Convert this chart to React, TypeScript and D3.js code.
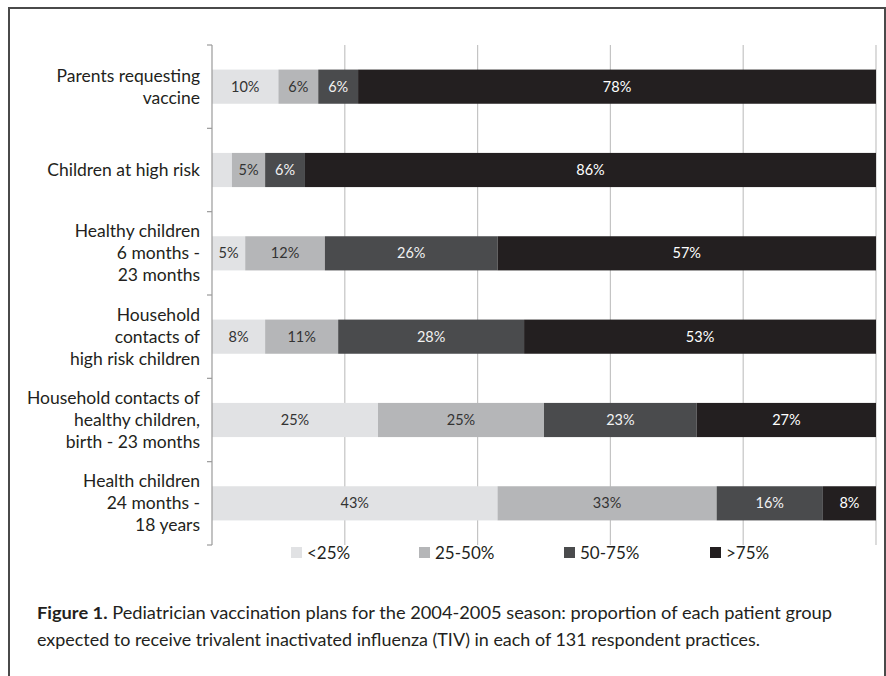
import React from "react";
import * as d3 from "d3";

const categories = [
  "Parents requesting|vaccine",
  "Children at high risk",
  "Healthy children|6 months -|23 months",
  "Household|contacts of|high risk children",
  "Household contacts of|healthy children,|birth - 23 months",
  "Health children|24 months -|18 years",
];
const seriesNames = ["<25%", "25-50%", "50-75%", ">75%"];
const lt25 = [10, 3, 5, 8, 25, 43];
const s25to50 = [6, 5, 12, 11, 25, 33];
const s50to75 = [6, 6, 26, 28, 23, 16];
const gt75 = [78, 86, 57, 53, 27, 8];
const xTicks = [20, 40, 60, 80, 100];
const captionBold = "Figure 1.";
const captionLine1 = " Pediatrician vaccination plans for the 2004-2005 season: proportion of each patient group";
const captionLine2 = "expected to receive trivalent inactivated influenza (TIV) in each of 131 respondent practices.";

const colors = ["#e1e2e4", "#b5b6b8", "#4a4b4d", "#231f20"];
const textColors = ["#333", "#333", "#f2f2f2", "#ffffff"];
const FONT = "Lato, 'Open Sans', sans-serif";

export default function App() {
  const W = 886;
  const H = 676;
  const x = d3.scaleLinear().domain([0, 100]).range([212, 876]);
  const y = d3
    .scaleBand<string>()
    .domain(categories)
    .range([45, 545])
    .paddingInner(0.59)
    .paddingOuter(0.295);
  const rows = categories.map((c, i) => ({
    cat: c,
    a: lt25[i],
    b: s25to50[i],
    c2: s50to75[i],
    d: gt75[i],
  }));
  const stack = d3.stack<any>().keys(["a", "b", "c2", "d"]);
  const layers = stack(rows);
  const step = y.step();
  const boundaries = d3.range(categories.length + 1).map((i) => 45 + i * step);

  const legendX = [291, 419, 564, 710];

  return (
    <svg
      width={W}
      height={H}
      style={{ position: "absolute", left: 0, top: 0, background: "#fff" }}
      fontFamily={FONT}
    >
      <rect x={0} y={0} width={W} height={H} fill="#fff" />
      {/* frame */}
      <path d={`M9,${H} V8 H885 V${H}`} fill="none" stroke="#4a4a4a" strokeWidth={2} />

      {/* gridlines */}
      {xTicks.map((t) => (
        <line key={t} x1={x(t)} x2={x(t)} y1={45} y2={545} stroke="#c4c4c4" strokeWidth={1.2} />
      ))}

      {/* bars */}
      {layers.map((layer, li) =>
        layer.map((seg, i) => {
          const cat = categories[i];
          const x0 = x(seg[0]);
          const x1 = x(seg[1]);
          const v = seg[1] - seg[0];
          const yy = y(cat)!;
          return (
            <g key={`${li}-${i}`}>
              <rect x={x0} y={yy} width={x1 - x0} height={y.bandwidth()} fill={colors[li]} />
              {v >= 4 && (
                <text
                  x={(x0 + x1) / 2}
                  y={yy + y.bandwidth() / 2}
                  dy="0.35em"
                  textAnchor="middle"
                  fontSize={14.5}
                  fill={textColors[li]}
                >
                  {`${v}%`}
                </text>
              )}
            </g>
          );
        })
      )}

      {/* y axis */}
      <line x1={212} x2={212} y1={45} y2={545} stroke="#9a9a9a" strokeWidth={1.2} />
      {boundaries.map((b, i) => (
        <line key={i} x1={207} x2={212} y1={b} y2={b} stroke="#9a9a9a" strokeWidth={1.2} />
      ))}

      {/* category labels */}
      {categories.map((c) => {
        const lines = c.split("|");
        const cy = y(c)! + y.bandwidth() / 2;
        const lh = 22;
        return (
          <text key={c} textAnchor="end" fontSize={17.5} fill="#231f20">
            {lines.map((l, k) => (
              <tspan key={k} x={200} y={cy + (k - (lines.length - 1) / 2) * lh} dy="0.35em">
                {l}
              </tspan>
            ))}
          </text>
        );
      })}

      {/* legend */}
      {seriesNames.map((n, i) => (
        <g key={n}>
          <rect x={legendX[i]} y={547} width={11} height={11} fill={colors[i]} />
          <text x={legendX[i] + 16} y={553} dy="0.35em" fontSize={17} fill="#231f20">
            {n}
          </text>
        </g>
      ))}

      {/* caption */}
      <text x={37} y={619} fontSize={17.5} fill="#231f20" textLength={795} lengthAdjust="spacingAndGlyphs">
        <tspan fontWeight="bold">{captionBold}</tspan>
        <tspan>{captionLine1}</tspan>
      </text>
      <text x={37} y={646} fontSize={17.5} fill="#231f20" textLength={723} lengthAdjust="spacingAndGlyphs">
        {captionLine2}
      </text>
    </svg>
  );
}
